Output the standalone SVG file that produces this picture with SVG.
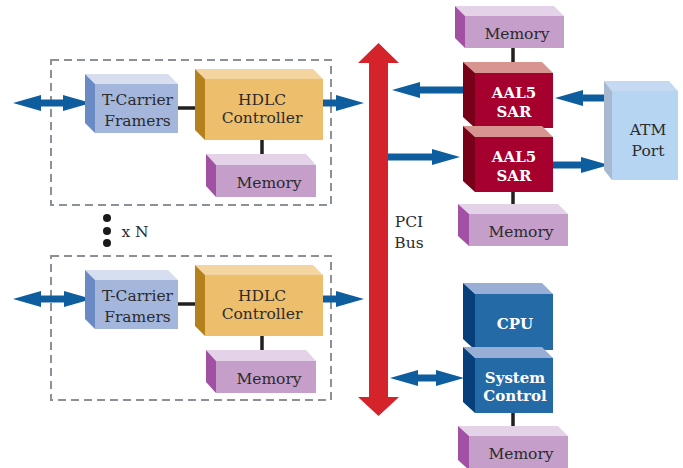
<svg xmlns="http://www.w3.org/2000/svg" width="683" height="468" viewBox="0 0 683 468">
<style>
.t{font-family:"DejaVu Serif","Liberation Serif",serif;font-size:15.5px;fill:#2b2b2b;text-anchor:middle}
.b{font-family:"DejaVu Serif","Liberation Serif",serif;font-size:15px;font-weight:bold;fill:#ffffff;text-anchor:middle}
.dash{fill:none;stroke:#8c9099;stroke-width:2;stroke-dasharray:8 5}
.ln{stroke:#231f20;stroke-width:3.5;fill:none}
.ar{stroke:#0e5e9f;stroke-width:7;fill:none}
.memF{fill:#c59ec9}.memT{fill:#e4d2e8}.memS{fill:#a150a3}
.tcF{fill:#a4b6dc}.tcT{fill:#d6deef}.tcS{fill:#6a8ac3}
.hdF{fill:#edbe6c}.hdT{fill:#f5d59f}.hdS{fill:#b5811c}
.saF{fill:#a6002f}.saT{fill:#d8948f}.saS{fill:#780018}
.atF{fill:#b5d5f3}.atT{fill:#c6d9f2}.atS{fill:#a8b8d0}
.cpF{fill:#246aa7}.cpT{fill:#98aed4}.cpS{fill:#063f79}
</style>
<defs>
<marker id="ah" markerUnits="userSpaceOnUse" markerWidth="28" markerHeight="18" viewBox="0 0 28 18" refX="2" refY="9" orient="auto-start-reverse">
<path d="M0,1 L28,9 L0,17 Z" fill="#0e5e9f"/>
</marker>
</defs>

<rect class="dash" x="51" y="60" width="280" height="145"/>
<rect class="dash" x="51" y="256" width="280" height="144"/>

<g id="bus">
<polygon points="378.5,43 399,63 388,63 388,397 399,397 378.5,416 358,397 369,397 369,63 358,63" fill="#d4232b"/>
<text class="t" x="409" y="227">PCI</text>
<text class="t" x="409" y="248">Bus</text>
</g>

<g id="connectors">
<line class="ln" x1="178" y1="108" x2="205" y2="108"/>
<line class="ln" x1="262" y1="140" x2="262" y2="160"/>
<line class="ln" x1="178" y1="304" x2="205" y2="304"/>
<line class="ln" x1="262" y1="336" x2="262" y2="356"/>
<line class="ln" x1="513" y1="48" x2="513" y2="66"/>
<line class="ln" x1="513" y1="192" x2="513" y2="209"/>
<line class="ln" x1="513" y1="413" x2="513" y2="431"/>
<line class="ar" x1="39" y1="103" x2="65" y2="103" marker-start="url(#ah)" marker-end="url(#ah)"/>
<line class="ar" x1="323" y1="103" x2="338" y2="103" marker-end="url(#ah)"/>
<line class="ar" x1="39" y1="299" x2="66" y2="299" marker-start="url(#ah)" marker-end="url(#ah)"/>
<line class="ar" x1="323" y1="299" x2="338" y2="299" marker-end="url(#ah)"/>
<line class="ar" x1="467" y1="90" x2="418" y2="90" marker-end="url(#ah)"/>
<line class="ar" x1="608" y1="98" x2="581" y2="98" marker-end="url(#ah)"/>
<line class="ar" x1="388" y1="157" x2="434" y2="157" marker-end="url(#ah)"/>
<line class="ar" x1="553" y1="165" x2="583" y2="165" marker-end="url(#ah)"/>
<line class="ar" x1="416" y1="378" x2="438" y2="378" marker-start="url(#ah)" marker-end="url(#ah)"/>
</g>

<g id="dots">
<circle cx="107" cy="218" r="4" fill="#1a1a1a"/>
<circle cx="107" cy="231" r="4" fill="#1a1a1a"/>
<circle cx="107" cy="243" r="4" fill="#1a1a1a"/>
<text class="t" x="135" y="237">x N</text>
</g>

<g id="tcarrier1">
<polygon class="tcT" points="85,74 168,74 178,84 95,84"/>
<polygon class="tcS" points="85,74 95,84 95,133 85,123"/>
<rect class="tcF" x="95" y="84" width="83" height="49"/>
<text class="t" x="137.5" y="105">T-Carrier</text>
<text class="t" x="137.5" y="126">Framers</text>
</g>
<g id="hdlc1">
<polygon class="hdT" points="195,69 313,69 323,79 205,79"/>
<polygon class="hdS" points="195,69 205,79 205,140 195,130"/>
<rect class="hdF" x="205" y="79" width="118" height="61"/>
<text class="t" x="262" y="105">HDLC</text>
<text class="t" x="262" y="123">Controller</text>
</g>
<g id="mem1">
<polygon class="memT" points="206,154 306,154 316,165 216,165"/>
<polygon class="memS" points="206,154 216,165 216,197 206,186"/>
<rect class="memF" x="216" y="165" width="100" height="32"/>
<text class="t" x="269" y="188">Memory</text>
</g>

<g id="tcarrier2">
<polygon class="tcT" points="85,270 168,270 178,280 95,280"/>
<polygon class="tcS" points="85,270 95,280 95,329 85,319"/>
<rect class="tcF" x="95" y="280" width="83" height="49"/>
<text class="t" x="137.5" y="301">T-Carrier</text>
<text class="t" x="137.5" y="322">Framers</text>
</g>
<g id="hdlc2">
<polygon class="hdT" points="195,265 313,265 323,275 205,275"/>
<polygon class="hdS" points="195,265 205,275 205,336 195,326"/>
<rect class="hdF" x="205" y="275" width="118" height="61"/>
<text class="t" x="262" y="301">HDLC</text>
<text class="t" x="262" y="319">Controller</text>
</g>
<g id="mem2">
<polygon class="memT" points="206,350 306,350 316,361 216,361"/>
<polygon class="memS" points="206,350 216,361 216,393 206,382"/>
<rect class="memF" x="216" y="361" width="100" height="32"/>
<text class="t" x="269" y="384">Memory</text>
</g>

<g id="memSar1">
<polygon class="memT" points="455,6 554,6 564,16 465,16"/>
<polygon class="memS" points="455,6 465,16 465,48 455,38"/>
<rect class="memF" x="465" y="16" width="99" height="32"/>
<text class="t" x="517" y="39">Memory</text>
</g>
<g id="sar1">
<polygon class="saT" points="463,62 542,62 553,73 475,73"/>
<polygon class="saS" points="463,62 475,73 475,128 463,117"/>
<rect class="saF" x="475" y="73" width="78" height="55"/>
<text class="b" x="514" y="98">AAL5</text>
<text class="b" x="514" y="117">SAR</text>
</g>
<g id="sar2">
<polygon class="saT" points="463,126 542,126 553,137 475,137"/>
<polygon class="saS" points="463,126 475,137 475,192 463,181"/>
<rect class="saF" x="475" y="137" width="78" height="55"/>
<text class="b" x="514" y="162">AAL5</text>
<text class="b" x="514" y="181">SAR</text>
</g>
<g id="memSar2">
<polygon class="memT" points="458,204 558,204 568,214 469,214"/>
<polygon class="memS" points="458,204 469,214 469,246 458,236"/>
<rect class="memF" x="469" y="214" width="99" height="32"/>
<text class="t" x="521" y="237">Memory</text>
</g>
<g id="atm">
<polygon class="atT" points="604,81 669,81 678,91 612,91"/>
<polygon class="atS" points="604,81 612,91 612,180 604,170"/>
<rect class="atF" x="612" y="91" width="66" height="89"/>
<text class="t" x="648" y="135">ATM</text>
<text class="t" x="648" y="156">Port</text>
</g>
<g id="cpu">
<polygon class="cpT" points="463,283 542,283 553,294 475,294"/>
<polygon class="cpS" points="463,283 475,294 475,350 463,339"/>
<rect class="cpF" x="475" y="294" width="78" height="56"/>
<text class="b" x="515" y="329">CPU</text>
</g>
<g id="sysctrl">
<polygon class="cpT" points="463,347 542,347 553,358 475,358"/>
<polygon class="cpS" points="463,347 475,358 475,413 463,402"/>
<rect class="cpF" x="475" y="358" width="78" height="55"/>
<text class="b" x="515" y="383">System</text>
<text class="b" x="515" y="401">Control</text>
</g>
<g id="memSys">
<polygon class="memT" points="458,426 558,426 568,436 469,436"/>
<polygon class="memS" points="458,426 469,436 469,470 458,460"/>
<rect class="memF" x="469" y="436" width="99" height="34"/>
<text class="t" x="521" y="459">Memory</text>
</g>
</svg>
